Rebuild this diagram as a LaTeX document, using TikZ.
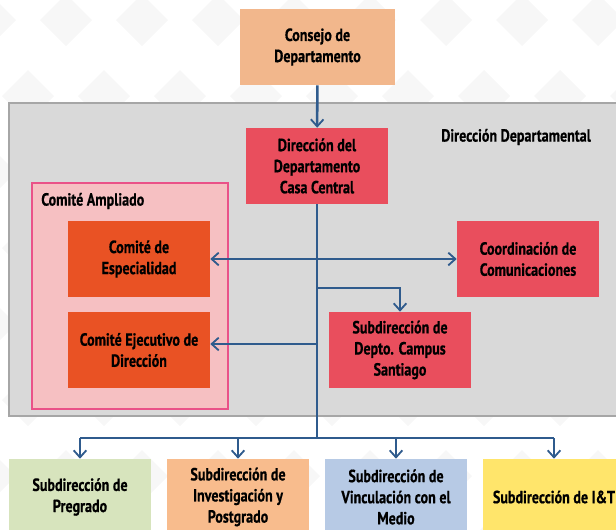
\documentclass[tikz,border=0pt]{standalone}
\usepackage{fontspec}
\setmainfont{PT Sans}[FakeStretch=0.8, BoldFeatures={FakeBold=0.6}]
\usetikzlibrary{positioning,arrows.meta}

\definecolor{peach}{HTML}{F2B78C}
\definecolor{panelgray}{HTML}{D9D9D9}
\definecolor{panelline}{HTML}{A6A6A6}
\definecolor{dirred}{HTML}{E94E5D}
\definecolor{ampfill}{HTML}{F6C0C2}
\definecolor{ampline}{HTML}{EA5288}
\definecolor{comorange}{HTML}{E95224}
\definecolor{subgreen}{HTML}{D7E4BD}
\definecolor{suborange}{HTML}{F8BC8D}
\definecolor{subblue}{HTML}{B7CAE5}
\definecolor{subyellow}{HTML}{FFE56B}
\definecolor{linkblue}{HTML}{2F5B8D}

\tikzset{orgbox/.style={fill=#1, minimum width=3.55cm, minimum height=1.9cm, inner sep=2pt, align=center, font=\fontsize{12.5}{15}\selectfont\bfseries}}
\tikzset{grouplabel/.style={font=\fontsize{12.5}{15}\selectfont\bfseries, inner sep=0pt}}
\tikzset{link/.style={draw=linkblue, line width=1.8pt}}
\tikzset{arr/.style={link, -{Straight Barb[length=5pt, width=9pt, line width=1.3pt]}}}
\tikzset{deco/.style={fill=black!3}}

\begin{document}
\begin{tikzpicture}[x=0.025cm, y=-0.025cm]
\useasboundingbox (0,0) rectangle (616,529);
\clip (0,0) rectangle (616,529);

% faint diamond pattern
\foreach \j in {0,...,7} {
  \foreach \i in {0,...,9} {
    \pgfmathsetmacro{\cx}{\i*76 + mod(\j,2)*38 - 10}
    \pgfmathsetmacro{\cy}{\j*76 + 20}
    \fill[deco] (\cx,\cy-26) -- (\cx+26,\cy) -- (\cx,\cy+26) -- (\cx-26,\cy) -- cycle;
  }
}

% groups
\draw[draw=panelline, fill=panelgray, line width=2pt] (9,103) rectangle (640,416);
\draw[draw=ampline, fill=ampfill, line width=1.6pt] (32,183) rectangle (228,409);
\node[grouplabel, anchor=west] (deplabel) at (441,137) {Dirección Departamental};
\node[grouplabel, anchor=west] (amplabel) at (41,201) {Comité Ampliado};

% boxes
\node[orgbox=peach, minimum width=3.875cm] (consejo) at (317.5,47) {Consejo de\\Departamento};
\node[orgbox=dirred] (direccion) at (317,166) {Dirección del\\Departamento\\Casa Central};
\node[orgbox=comorange] (especialidad) at (139,259) {Comité de\\Especialidad};
\node[orgbox=comorange] (ejecutivo) at (139,350) {Comité Ejecutivo de\\Dirección};
\node[orgbox=dirred] (comunicaciones) at (528,259) {Coordinación de\\Comunicaciones};
\node[orgbox=dirred] (santiago) at (400,350) {Subdirección de\\Depto. Campus\\Santiago};

\node[orgbox=subgreen] (pregrado) at (80,497) {Subdirección de\\Pregrado};
\node[orgbox=suborange] (investigacion) at (238,497) {Subdirección de\\Investigación y\\Postgrado};
\node[orgbox=subblue] (vinculacion) at (396,497) {Subdirección de\\Vinculación con el\\Medio};
\node[orgbox=subyellow] (iyt) at (554,497) {Subdirección de I\&T};

% connectors
\coordinate (bus) at (317,438);
\coordinate (sbranch) at (317,288);
\coordinate (ejecin) at (317,344);
\draw[arr] (consejo) -- (direccion);
\draw[link] (direccion) -- (bus);
\draw[arr] (direccion |- especialidad) -- (especialidad);
\draw[arr] (direccion |- comunicaciones) -- (comunicaciones);
\draw[arr] (sbranch) -| (santiago);
\draw[arr] (ejecin) -- (ejecin -| ejecutivo.east);
\draw[link] (pregrado |- bus) -- (iyt |- bus);
\foreach \n in {pregrado, investigacion, vinculacion, iyt}
  \draw[arr] (\n |- bus) -- (\n);
\end{tikzpicture}
\end{document}
